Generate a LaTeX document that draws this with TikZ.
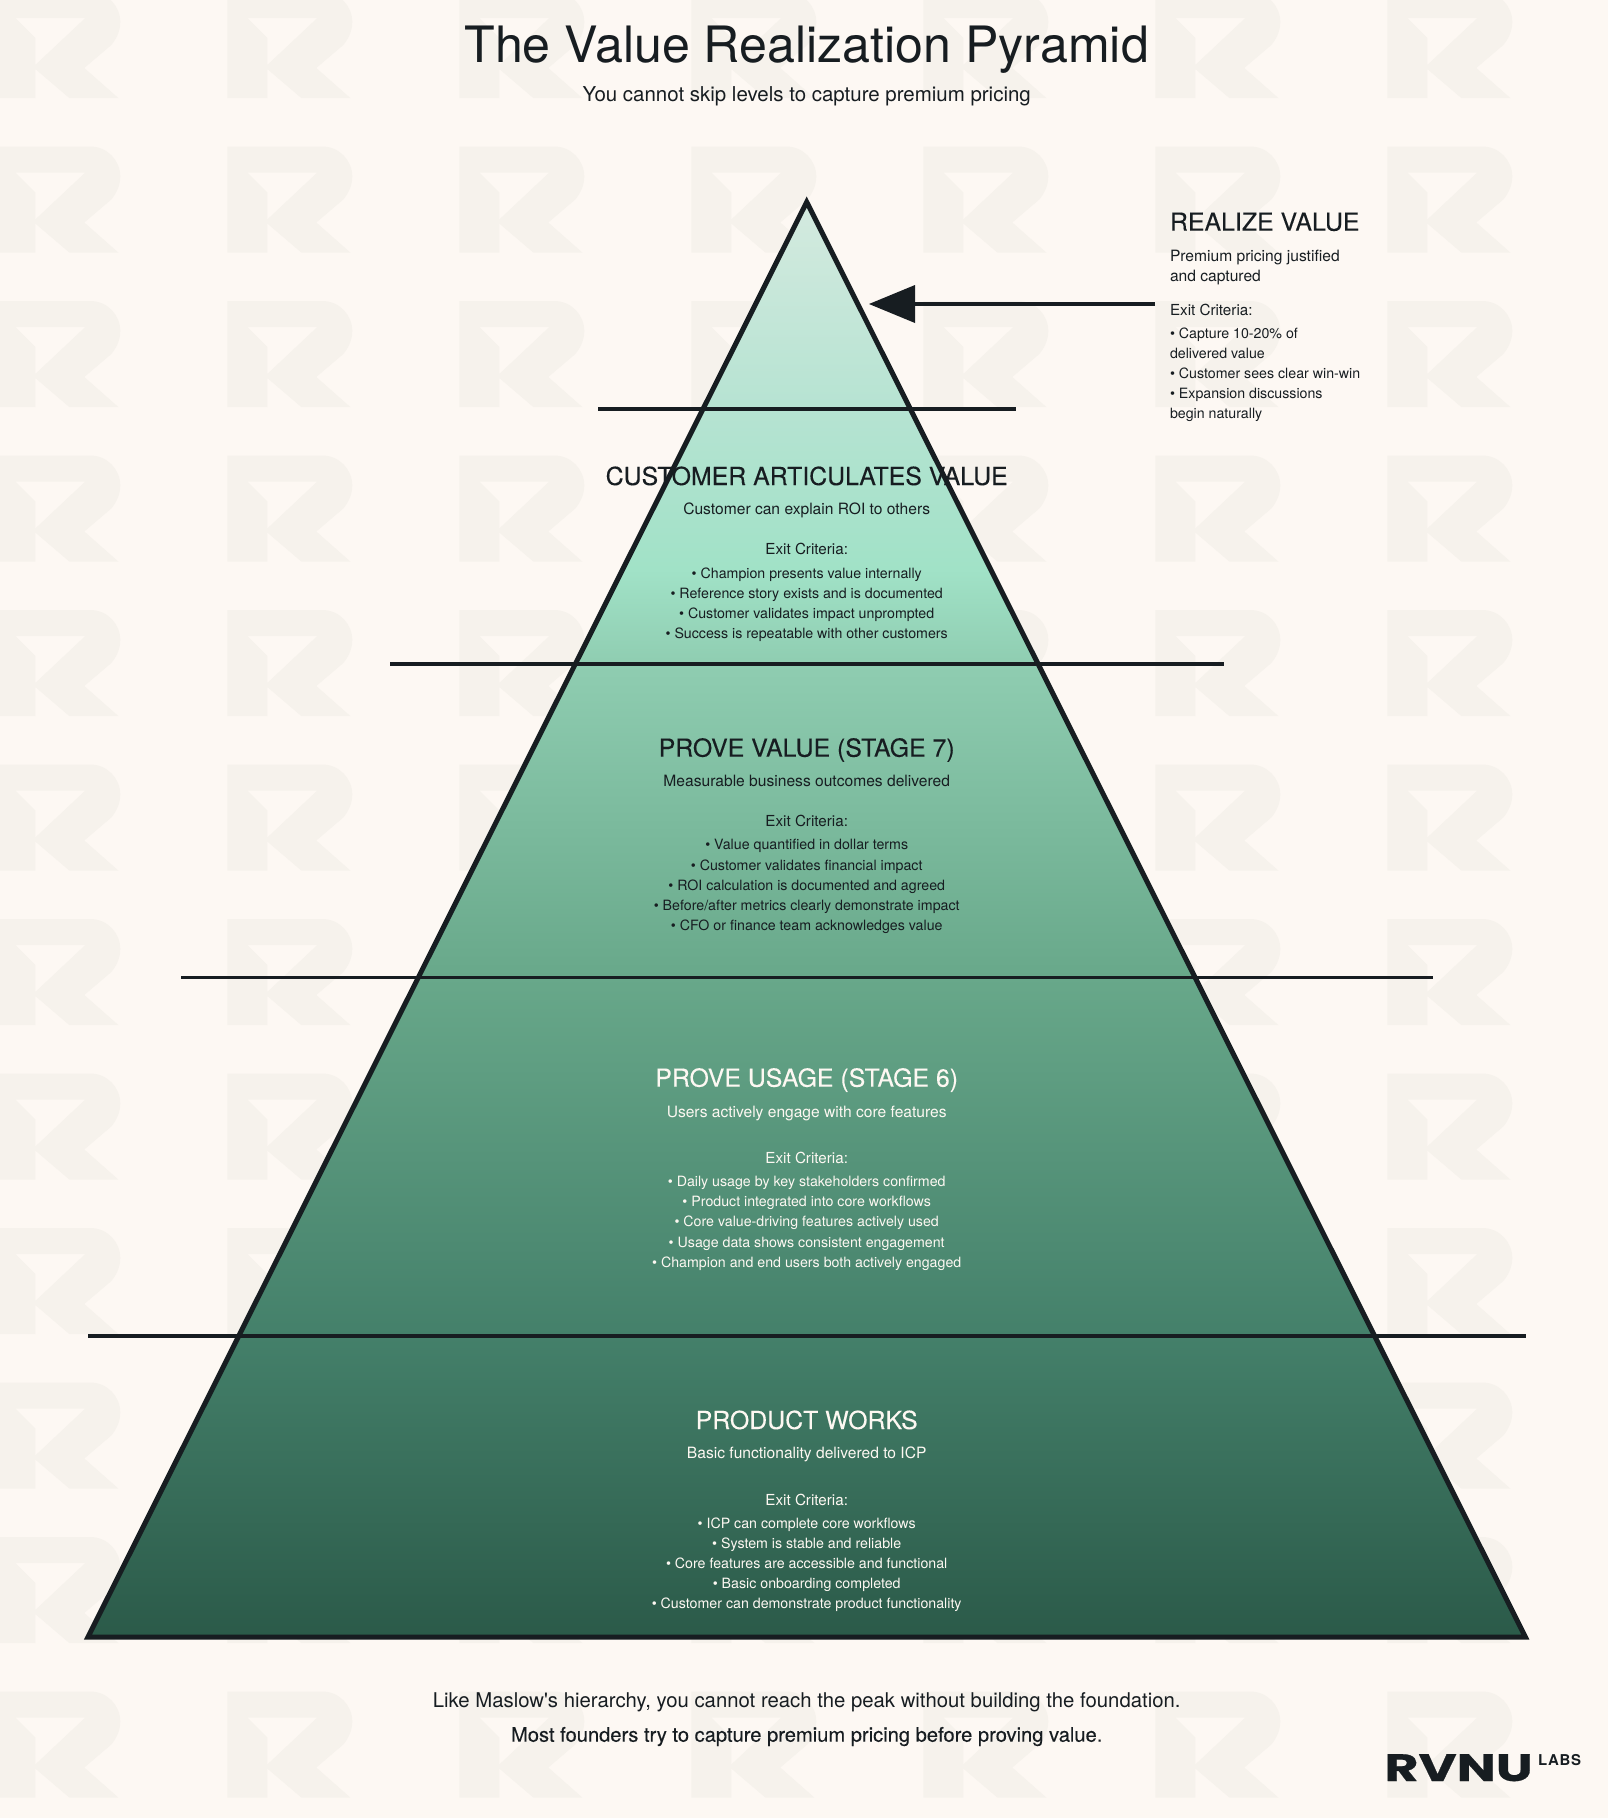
\documentclass[tikz,border=0pt]{standalone}
\usepackage{graphicx}
\usepackage{fontspec}
\setmainfont{TeX Gyre Heros}[Ligatures=TeXOff]
\newfontfamily\headfont{TeX Gyre Heros}[FakeBold=0.12,Ligatures=TeXOff]
\newfontfamily\medfont{TeX Gyre Heros}[FakeBold=0.25,Ligatures=TeXOff]
\newfontfamily\logofont{Poppins}[FakeBold=0.5]
\newfontfamily\labsfont{TeX Gyre Heros}[LetterSpace=5]
\definecolor{pagebg}{HTML}{FDF8F3}
\definecolor{tilec}{HTML}{F6F2EC}
\definecolor{ink}{HTML}{171D21}
\definecolor{cream}{HTML}{FDF8F2}
\definecolor{gA}{HTML}{D4EADF}
\definecolor{gB}{HTML}{B6E3D2}
\definecolor{gC}{HTML}{A1E2C7}
\definecolor{gD}{HTML}{8FCDB1}
\definecolor{gE}{HTML}{68A88A}
\definecolor{gF}{HTML}{44806A}
\definecolor{gG}{HTML}{2B5A49}
\pgfdeclareverticalshading{pyrshade}{100bp}{
 color(0bp)=(gG); color(25bp)=(gG); color(35.5bp)=(gF); color(48bp)=(gE);
 color(58.9bp)=(gD); color(62.2bp)=(gC); color(67.8bp)=(gB); color(75bp)=(gA); color(100bp)=(gA)}
\newcommand{\pxfont}[1]{\fontsize{#1}{#1}\selectfont}
\tikzset{
 txt/.style={anchor=base,inner sep=0pt,outer sep=0pt,text=ink},
 sechead/.style={txt,font=\headfont\pxfont{18.65pt}},
 secsub/.style={txt,font=\pxfont{11.7pt}},
 secexit/.style={txt,font=\pxfont{11.4pt}},
 secitem/.style={txt,font=\pxfont{10.65pt}},
 ondark/.style={text=cream},
 leftside/.style={anchor=base west},
 divider/.style={draw=ink,line width=2.35pt},
}
\begin{document}
\begin{tikzpicture}[x=0.75pt,y=-0.75pt]
\useasboundingbox (0,0) rectangle (1608,1818);
\fill[pagebg] (0,0) rectangle (1608,1818);
% background R tiles
\foreach \i in {0,...,6}{
 \foreach \j in {0,...,11}{
  \begin{scope}[shift={({-4.7+232*\i},{-8+154.5*\j})}]
   \fill[tilec,even odd rule] (0,0) -- (95,0) .. controls (112,0) and (125,14) .. (125,30)
     .. controls (125,39) and (121,47) .. (116,53) -- (89,76) -- (123,106) -- (74,106) -- (40,77) -- (40,106) -- (0,106) -- cycle
     (20,26) -- (90,26) -- (40,73) -- (40,46) -- cycle;
  \end{scope}
 }
}
% pyramid
\coordinate (apex) at (806.7,202);
\coordinate (baseL) at (88,1637);
\coordinate (baseR) at (1525.4,1637);
\begin{scope}
 \clip (apex) -- (baseR) -- (baseL) -- cycle;
 \shade[shading=pyrshade] (88,202) rectangle (1525.4,1637);
\end{scope}
\draw[ink,line width=3.75pt,miter limit=10] (apex) -- (baseR) -- (baseL) -- cycle;
% dividers
\coordinate (d1l) at (598.3,409); \coordinate (d1r) at (1015.7,409);
\coordinate (d2l) at (390,664); \coordinate (d2r) at (1224,664);
\coordinate (d3l) at (181,977.5); \coordinate (d3r) at (1433,977.5);
\coordinate (d4l) at (88.3,1336); \coordinate (d4r) at (1526,1336);
\draw[divider] (d1l) -- (d1r);
\draw[divider] (d2l) -- (d2r);
\draw[divider] (d3l) -- (d3r);
\draw[divider] (d4l) -- (d4r);
% title
\node[txt,font=\pxfont{37.6pt}] (title) at (806.7,62) {The Value Realization Pyramid};
\node[txt,font=\pxfont{15.35pt}] (subtitle) at (806.7,101.5) {You cannot skip levels to capture premium pricing};
% customer articulates
\node[sechead] (h2) at (806.7,485) {CUSTOMER ARTICULATES VALUE};
\node[secsub] (s2) at (806.7,514.3) {Customer can explain ROI to others};
\node[secexit] (e2) at (806.7,554.3) {Exit Criteria:};
\node[secitem] (i21) at (806.7,578.3) {• Champion presents value internally};
\node[secitem] (i22) at (806.7,598.3) {• Reference story exists and is documented};
\node[secitem] (i23) at (806.7,618.3) {• Customer validates impact unprompted};
\node[secitem] (i24) at (806.7,638.3) {• Success is repeatable with other customers};
% prove value
\node[sechead] (h3) at (806.7,756.7) {PROVE VALUE (STAGE 7)};
\node[secsub] (s3) at (806.7,786) {Measurable business outcomes delivered};
\node[secexit] (e3) at (806.7,826) {Exit Criteria:};
\node[secitem] (i31) at (806.7,849) {• Value quantified in dollar terms};
\node[secitem] (i32) at (806.7,870) {• Customer validates financial impact};
\node[secitem] (i33) at (806.7,890) {• ROI calculation is documented and agreed};
\node[secitem] (i34) at (806.7,910) {• Before/after metrics clearly demonstrate impact};
\node[secitem] (i35) at (806.7,930) {• CFO or finance team acknowledges value};
% prove usage
\node[sechead,ondark] (h4) at (806.7,1086.7) {PROVE USAGE (STAGE 6)};
\node[secsub,ondark] (s4) at (806.7,1117) {Users actively engage with core features};
\node[secexit,ondark] (e4) at (806.7,1163.3) {Exit Criteria:};
\node[secitem,ondark] (i41) at (806.7,1186) {• Daily usage by key stakeholders confirmed};
\node[secitem,ondark] (i42) at (806.7,1206) {• Product integrated into core workflows};
\node[secitem,ondark] (i43) at (806.7,1226) {• Core value-driving features actively used};
\node[secitem,ondark] (i44) at (806.7,1247) {• Usage data shows consistent engagement};
\node[secitem,ondark] (i45) at (806.7,1267) {• Champion and end users both actively engaged};
% product works
\node[sechead,ondark] (h5) at (806.7,1429) {PRODUCT WORKS};
\node[secsub,ondark] (s5) at (806.7,1458.3) {Basic functionality delivered to ICP};
\node[secexit,ondark] (e5) at (806.7,1505) {Exit Criteria:};
\node[secitem,ondark] (i51) at (806.7,1528.3) {• ICP can complete core workflows};
\node[secitem,ondark] (i52) at (806.7,1548.3) {• System is stable and reliable};
\node[secitem,ondark] (i53) at (806.7,1568.3) {• Core features are accessible and functional};
\node[secitem,ondark] (i54) at (806.7,1588.3) {• Basic onboarding completed};
\node[secitem,ondark] (i55) at (806.7,1608.3) {• Customer can demonstrate product functionality};
% realize value panel
\node[sechead,leftside] (h1) at (1170,230.7) {REALIZE VALUE};
\node[secsub,leftside] (s1a) at (1170,261) {Premium pricing justified};
\node[secsub,leftside] (s1b) at (1170,281) {and captured};
\node[secexit,leftside] (e1) at (1170,315) {Exit Criteria:};
\node[secitem,leftside] (i11) at (1170,338.3) {• Capture 10-20\% of};
\node[secitem,leftside] (i12) at (1170,358.3) {delivered value};
\node[secitem,leftside] (i13) at (1170,378.3) {• Customer sees clear win-win};
\node[secitem,leftside] (i14) at (1170,398.3) {• Expansion discussions};
\node[secitem,leftside] (i15) at (1170,418.3) {begin naturally};
% arrow
\coordinate (arrtail) at (1155,304);
\coordinate (arrbase) at (915,304);
\coordinate (arrtip) at (869,304);
\draw[ink,line width=2.7pt] (arrtail) -- (arrbase);
\fill[ink] (arrtip) -- (915,285) -- (915,323) -- cycle;
% footer
\node[txt,font=\pxfont{15.24pt}] (f1) at (806.7,1707.3) {Like Maslow's hierarchy, you cannot reach the peak without building the foundation.};
\node[txt,font=\medfont\pxfont{15.1pt}] (f2) at (806.7,1741.7) {Most founders try to capture premium pricing before proving value.};
% logo
\node[txt,anchor=base west] (logo) at (1384.5,1781) {\scalebox{1.45}[1.06]{\logofont\bfseries\pxfont{27pt}RVNU}};
\node[txt,anchor=base west,font=\labsfont\bfseries\pxfont{11.2pt}] (labs) at (1538,1765) {LABS};
\end{tikzpicture}
\end{document}
